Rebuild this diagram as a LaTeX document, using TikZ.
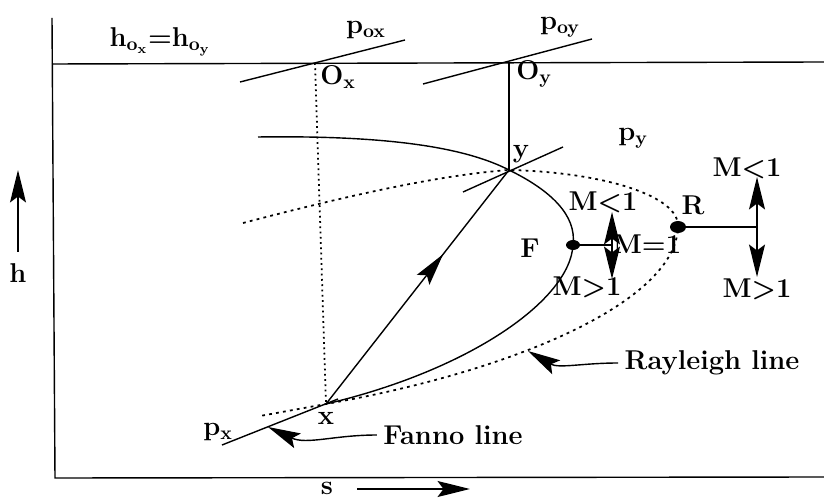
\documentclass[tikz,border=0pt]{standalone}
\usetikzlibrary{arrows.meta,decorations.markings}
\begin{document}
\begin{tikzpicture}[x=0.02cm,y=-0.02cm,
  line width=0.8pt,font=\fontsize{15.5}{18}\selectfont\bfseries,
  tip/.style={-{Stealth[length=6.5mm,width=3.2mm,inset=1.2mm]}},
  rayl/.style={line width=1pt,dash pattern=on 1.6pt off 2.4pt},
  vdot/.style={line width=1pt,dash pattern=on 1pt off 2pt},
  midarrow/.style={postaction={decorate},
    decoration={markings,mark=at position 0.64 with {\arrow{Stealth[length=6.5mm,width=3.2mm,inset=1.2mm]}}}}]
  \useasboundingbox (0,0) rectangle (824,499);

  \coordinate (TL) at (52,18);
  \coordinate (BL) at (55,478);
  \coordinate (BR) at (824,477);
  \coordinate (HL) at (52,64);
  \coordinate (HR) at (824,62);
  \coordinate (Ox) at (315,63);
  \coordinate (Oy) at (509,62);
  \coordinate (Y) at (509,170);
  \coordinate (X) at (326,404);
  \coordinate (F) at (573,245);
  \coordinate (R) at (678,227);
  \coordinate (Fs) at (258,137);
  \coordinate (Rs) at (243,223);
  \coordinate (Re) at (260,416);

  % 坐标轴与滞止焓线
  \draw (TL) -- (BL) -- (BR);
  \draw (HL) -- (HR);

  % 等压线
  \coordinate (poxA) at (240,82);
  \coordinate (poxB) at (405,40);
  \coordinate (poyA) at (423,84);
  \coordinate (poyB) at (592,39);
  \coordinate (pyA) at (463,192);
  \coordinate (pyB) at (563,147);
  \coordinate (pxA) at (222,445);
  \coordinate (pxB) at (338,399);
  \draw (poxA) -- (poxB);
  \draw (poyA) -- (poyB);
  \draw (pyA) -- (pyB);
  \draw (pxA) -- (pxB);

  % 竖线
  \draw (Oy) -- (Y);
  \draw[vdot] (Ox) -- (X);

  % Fanno 线
  \draw (Fs) .. controls (400,135) and (470,150) .. (Y)
    .. controls (550,190) and (577,215) .. (F)
    .. controls (570,300) and (470,370) .. (X);

  % Rayleigh 线（虚线）
  \draw[rayl] (Rs) .. controls (350,195) and (440,175) .. (Y)
    .. controls (600,172) and (680,195) .. (R)
    .. controls (676,300) and (520,370) .. (X) -- (Re);

  % 激波 x -> y
  \draw[midarrow] (X) -- (Y);

  % F 与 R 两点
  \fill (F) ellipse (0.14cm and 0.1cm);
  \fill (R) ellipse (0.16cm and 0.12cm);
  \coordinate (Fm) at (612,245);
  \coordinate (Fup) at (612,212);
  \coordinate (Fdn) at (612,279);
  \coordinate (Rm) at (757,227);
  \coordinate (Rup) at (757,177);
  \coordinate (Rdn) at (757,277);
  \draw (F) -- (Fm);
  \draw[tip] (Fm) -- (Fup);
  \draw[tip] (Fm) -- (Fdn);
  \draw (R) -- (Rm);
  \draw[tip] (Rm) -- (Rup);
  \draw[tip] (Rm) -- (Rdn);

  % 标注
  \node (hoo) at (160,42) {h\textsubscript{o\textsubscript{x}}=h\textsubscript{o\textsubscript{y}}};
  \node (pox) at (366,30) {p\textsubscript{ox}};
  \node (poy) at (560,27) {p\textsubscript{oy}};
  \node (oxl) at (338,77) {O\textsubscript{x}};
  \node (oyl) at (534,74) {O\textsubscript{y}};
  \node (pyl) at (633,138) {p\textsubscript{y}};
  \node (yl) at (521,154) {y};
  \node (xl) at (326,418) {x};
  \node (pxl) at (218,432) {p\textsubscript{x}};
  \node (fl) at (530,248) {F};
  \node (rl) at (693,205) {R};
  \node (fml) at (603,202) {M<1};
  \node (feq) at (647,244) {M=1};
  \node (fmg) at (587,287) {M>1};
  \node (rml) at (747,168) {M<1};
  \node (rmg) at (757,289) {M>1};

  % 线名与指示箭头
  \node (fanno) at (453,435) {Fanno line};
  \node (rayleigh) at (712,363) {Rayleigh line};
  \coordinate (ftip) at (268,427);
  \coordinate (rtip) at (528,351);
  \draw[tip] (fanno.west) to[out=180,in=-25] (ftip);
  \draw[tip] (rayleigh.west) to[out=180,in=-30] (rtip);

  % 坐标轴名
  \node (hl) at (18,273) {h};
  \coordinate (ha) at (18,252);
  \coordinate (hb) at (18,170);
  \draw[tip] (ha) -- (hb);
  \node (sl) at (327,488) {s};
  \coordinate (sa) at (357,489);
  \coordinate (sb) at (470,489);
  \draw[tip] (sa) -- (sb);
\end{tikzpicture}
\end{document}
